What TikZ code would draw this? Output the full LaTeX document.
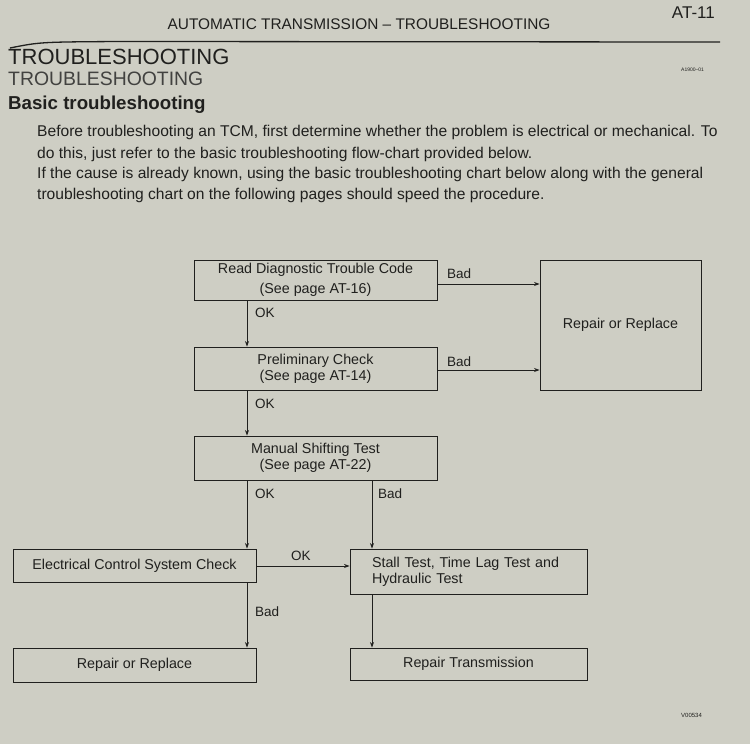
\documentclass[tikz,border=0pt]{standalone}
\usepackage{fontspec}
\setmainfont{Liberation Sans}
\usetikzlibrary{arrows.meta}
\definecolor{paper}{RGB}{206,206,196}
\definecolor{ink}{RGB}{32,32,30}
\begin{document}
\begin{tikzpicture}[x=1pt,y=-1pt,
  font=\fontsize{14.3}{16}\selectfont, text=ink,
  box/.style={draw=ink, line width=0.9pt, inner sep=0pt},
  conn/.style={draw=ink, line width=0.7pt, -{Stealth[length=5.5pt,width=4pt]}},
  lbl/.style={inner sep=0pt, anchor=west},
  edgelbl/.style={inner sep=0pt, anchor=west, font=\fontsize{13.5}{15}\selectfont},
  txt/.style={inner sep=0pt, anchor=west, font=\fontsize{15.6}{18}\selectfont}]
\fill[paper] (0,0) rectangle (750,744);
\useasboundingbox (0,0) rectangle (750,744);
% header
\node[inner sep=0pt] (hdr) at (359,24) {\fontsize{15.4}{17}\selectfont AUTOMATIC TRANSMISSION -- TROUBLESHOOTING};
\node[inner sep=0pt,anchor=east] (pg) at (715,13) {\fontsize{17}{19}\selectfont AT-11};
\coordinate (r1) at (10,48);
\coordinate (r2) at (720,42);
\draw[ink, line width=1.3pt] (r1) .. controls (40,42) .. (120,41.5) -- (r2);
\node[lbl] (t1) at (8,57) {\fontsize{22}{26}\selectfont TROUBLESHOOTING};
\node[lbl] (t2) at (8,79) {\fontsize{19.4}{22}\selectfont\color{ink!85} TROUBLESHOOTING};
\node[lbl] (t3) at (8,105) {\fontsize{18.7}{21}\selectfont\bfseries Basic troubleshooting};
\node[lbl] (code) at (681,70) {\fontsize{5}{6}\selectfont A1900--01};
\node[txt] (p1) at (37,132) {Before troubleshooting an TCM, first determine whether the problem is electrical or mechanical. To};
\node[txt] (p2) at (37,154) {do this, just refer to the basic troubleshooting flow-chart provided below.};
\node[txt] (p3) at (37,174) {If the cause is already known, using the basic troubleshooting chart below along with the general};
\node[txt] (p4) at (37,195) {troubleshooting chart on the following pages should speed the procedure.};
% boxes
\node[box, minimum width=243pt, minimum height=40pt, align=center] (rdtc) at (315.5,280) {Read Diagnostic Trouble Code\\[4pt](See page AT-16)};
\node[box, minimum width=161pt, minimum height=130pt] (rr1) at (620.5,325) {Repair or Replace};
\node[box, minimum width=243pt, minimum height=43pt, align=center] (prel) at (315.5,368.5) {Preliminary Check\\(See page AT-14)};
\node[box, minimum width=243pt, minimum height=44pt, align=center] (mst) at (315.5,458) {Manual Shifting Test\\(See page AT-22)};
\node[box, minimum width=243pt, minimum height=33pt] (ecs) at (134.5,565.5) {Electrical Control System Check};
\node[box, minimum width=237pt, minimum height=45pt, align=left, text width=193pt] (stall) at (468.5,571.5) {Stall Test, Time Lag Test and\\Hydraulic Test};
\node[box, minimum width=243pt, minimum height=34pt] (rr2) at (134.5,665) {Repair or Replace};
\node[box, minimum width=237pt, minimum height=32pt] (rtm) at (468.5,664) {Repair Transmission};
% connectors
\draw[conn] (rdtc.south -| 247,0) -- (prel.north -| 247,0);
\draw[conn] (prel.south -| 247,0) -- (mst.north -| 247,0);
\draw[conn] (mst.south -| 247,0) -- (ecs.north -| 247,0);
\draw[conn] (mst.south -| 372,0) -- (stall.north -| 372,0);
\draw[conn] (ecs.south -| 247,0) -- (rr2.north -| 247,0);
\draw[conn] (stall.south -| 372,0) -- (rtm.north -| 372,0);
\draw[conn] (rdtc.east |- 0,284) -- (rr1.west |- 0,284);
\draw[conn] (prel.east |- 0,370) -- (rr1.west |- 0,370);
\draw[conn] (ecs.east |- 0,566) -- (stall.west |- 0,566);
% labels
\node[edgelbl] (ok1) at (255,313) {OK};
\node[edgelbl] (ok2) at (255,404) {OK};
\node[edgelbl] (ok3) at (255,494) {OK};
\node[edgelbl] (bad3) at (378,494) {Bad};
\node[edgelbl] (ok4) at (291,556) {OK};
\node[edgelbl] (bad4) at (255,612) {Bad};
\node[edgelbl] (bad1) at (447,274) {Bad};
\node[edgelbl] (bad2) at (447,362) {Bad};
\node[lbl] (vcode) at (681,715) {\fontsize{6}{7}\selectfont V00534};
\end{tikzpicture}
\end{document}
